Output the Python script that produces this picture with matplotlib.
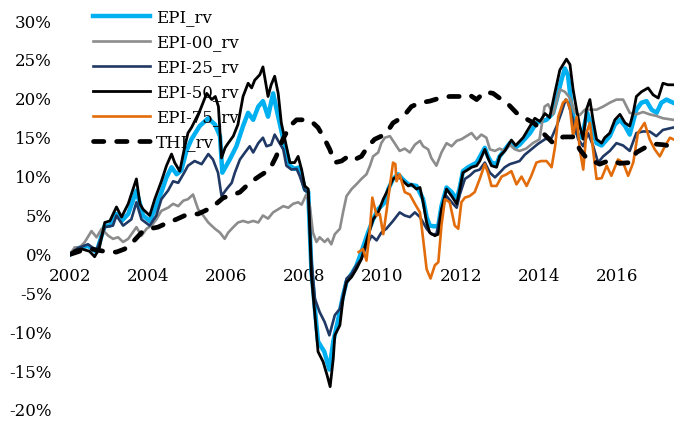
import matplotlib
matplotlib.use("Agg")
import matplotlib.pyplot as plt
from matplotlib.ticker import FuncFormatter

plt.rcParams['font.family'] = ['DejaVu Serif']

# ---------------- data (decimal year, % value) ----------------
epi_t = [2002.00, 2002.20, 2002.46, 2002.68, 2002.89, 2003.02, 2003.19, 2003.32, 2003.49, 2003.70,
         2003.87, 2004.04, 2004.17, 2004.34, 2004.47, 2004.60, 2004.73, 2004.85, 2004.98, 2005.11,
         2005.32, 2005.54, 2005.71, 2005.84, 2005.90, 2006.09, 2006.26, 2006.43, 2006.56, 2006.69,
         2006.82, 2006.94, 2007.07, 2007.20, 2007.33, 2007.46, 2007.63, 2007.75, 2007.88, 2008.01,
         2008.10, 2008.18, 2008.27, 2008.35, 2008.51, 2008.64, 2008.74, 2008.86, 2008.99, 2009.08,
         2009.21, 2009.33, 2009.46, 2009.63, 2009.76, 2009.89, 2010.06, 2010.15, 2010.27, 2010.40,
         2010.53, 2010.66, 2010.87, 2011.04, 2011.13, 2011.21, 2011.34, 2011.43, 2011.51, 2011.64,
         2011.77, 2011.90, 2011.98, 2012.06, 2012.19, 2012.41, 2012.62, 2012.70, 2012.79, 2012.92,
         2013.00, 2013.26, 2013.39, 2013.51, 2013.78, 2013.94, 2014.20, 2014.37, 2014.46, 2014.58,
         2014.67, 2014.75, 2014.84, 2014.97, 2015.10, 2015.24, 2015.35, 2015.48, 2015.61, 2015.82,
         2015.95, 2016.08, 2016.21, 2016.33, 2016.50, 2016.63, 2016.76, 2016.89, 2017.02, 2017.14,
         2017.27, 2017.44]
epi_v = [0.0, 0.8, 1.1, 0.3, 3.7, 3.7, 5.2, 4.3, 5.2, 8.2,
         5.0, 4.3, 5.8, 8.0, 9.9, 11.2, 10.3, 10.8, 13.3, 14.8,
         16.5, 17.5, 16.7, 15.2, 10.5, 12.2, 13.9, 16.5, 18.2, 17.3,
         19.0, 19.7, 17.7, 20.7, 17.7, 14.8, 11.4, 11.0, 11.2, 8.4,
         8.0, -2.0, -7.0, -11.2, -12.5, -14.8, -11.2, -8.5, -5.3, -3.5,
         -2.5, -1.5, 0.3, 2.8, 4.5, 5.8, 6.7, 8.4, 9.7, 10.3,
         9.6, 9.0, 8.8, 7.1, 4.8, 3.7, 3.6, 3.7, 6.2, 8.6,
         8.0, 7.1, 8.6, 10.7, 11.2, 11.8, 13.7, 12.6, 11.8, 11.6,
         12.6, 14.3, 13.7, 14.1, 15.6, 16.9, 17.3, 18.2, 19.9, 22.4,
         23.9, 23.0, 19.0, 15.6, 15.0, 18.2, 16.5, 14.3, 14.0, 15.2,
         16.7, 17.3, 16.5, 15.4, 18.6, 19.5, 19.7, 18.6, 18.2, 19.5,
         19.9, 19.5]

epi00_t = [2002.00, 2002.12, 2002.25, 2002.38, 2002.55, 2002.68, 2002.81, 2002.98, 2003.10, 2003.23,
           2003.36, 2003.49, 2003.70, 2003.83, 2003.96, 2004.09, 2004.21, 2004.34, 2004.51, 2004.64,
           2004.77, 2004.90, 2005.02, 2005.15, 2005.28, 2005.41, 2005.54, 2005.71, 2005.84, 2005.96,
           2006.05, 2006.18, 2006.30, 2006.43, 2006.56, 2006.69, 2006.82, 2006.94, 2007.07, 2007.20,
           2007.33, 2007.46, 2007.59, 2007.71, 2007.84, 2007.93, 2008.05, 2008.14, 2008.22, 2008.31,
           2008.39, 2008.52, 2008.60, 2008.69, 2008.78, 2008.91, 2008.99, 2009.08, 2009.21, 2009.33,
           2009.46, 2009.59, 2009.68, 2009.76, 2009.89, 2009.97, 2010.06, 2010.19, 2010.31, 2010.44,
           2010.57, 2010.70, 2010.83, 2010.96, 2011.04, 2011.17, 2011.25, 2011.38, 2011.51, 2011.64,
           2011.77, 2011.90, 2012.02, 2012.15, 2012.28, 2012.41, 2012.53, 2012.66, 2012.75, 2012.88,
           2013.00, 2013.13, 2013.26, 2013.39, 2013.51, 2013.68, 2013.85, 2014.02, 2014.15, 2014.24,
           2014.37, 2014.54, 2014.67, 2014.80, 2014.93, 2015.05, 2015.18, 2015.31, 2015.48, 2015.65,
           2015.82, 2015.99, 2016.16, 2016.33, 2016.50, 2016.67, 2016.84, 2017.01, 2017.18, 2017.44]
epi00_v = [0.0, 0.9, 0.9, 1.6, 3.0, 2.2, 3.3, 2.4, 2.0, 2.2,
           1.6, 2.0, 3.5, 2.4, 3.3, 3.7, 4.5, 5.6, 6.0, 6.5,
           6.2, 6.9, 7.1, 7.7, 5.8, 5.0, 4.1, 3.3, 2.8, 2.0,
           2.8, 3.5, 4.1, 4.3, 4.1, 4.3, 4.1, 5.0, 4.6, 5.4,
           5.8, 6.2, 6.0, 6.5, 6.7, 6.4, 7.7, 6.2, 2.8, 1.6,
           2.2, 1.6, 2.0, 1.3, 2.6, 3.3, 5.4, 7.5, 8.4, 9.0,
           9.7, 10.3, 11.4, 12.6, 13.1, 14.3, 15.0, 15.2, 14.3, 13.3,
           13.6, 13.1, 14.1, 14.6, 13.9, 13.5, 12.4, 11.4, 13.1, 14.3,
           13.9, 14.6, 14.8, 15.2, 15.6, 14.8, 15.4, 15.0, 13.5, 13.3,
           13.6, 13.3, 14.1, 13.5, 13.3, 13.6, 14.3, 14.8, 19.0, 19.3,
           18.0, 21.2, 20.9, 20.1, 18.2, 17.9, 18.6, 18.6, 18.6, 19.0,
           19.5, 19.9, 19.9, 18.2, 18.0, 18.3, 18.0, 17.8, 17.5, 17.3]

epi25_t = [2002.00, 2002.20, 2002.46, 2002.68, 2002.89, 2003.10, 2003.19, 2003.36, 2003.57, 2003.70,
           2003.83, 2004.04, 2004.21, 2004.34, 2004.51, 2004.64, 2004.77, 2004.90, 2005.02, 2005.19,
           2005.37, 2005.54, 2005.66, 2005.79, 2005.88, 2006.01, 2006.14, 2006.22, 2006.35, 2006.48,
           2006.60, 2006.69, 2006.82, 2006.94, 2007.03, 2007.15, 2007.24, 2007.33, 2007.46, 2007.54,
           2007.67, 2007.80, 2007.88, 2008.01, 2008.10, 2008.18, 2008.27, 2008.39, 2008.52, 2008.64,
           2008.78, 2008.91, 2008.99, 2009.08, 2009.21, 2009.33, 2009.46, 2009.59, 2009.72, 2009.85,
           2009.97, 2010.10, 2010.27, 2010.44, 2010.57, 2010.70, 2010.83, 2010.96, 2011.04, 2011.13,
           2011.25, 2011.38, 2011.51, 2011.64, 2011.77, 2011.90, 2011.98, 2012.11, 2012.23, 2012.36,
           2012.49, 2012.62, 2012.75, 2012.88, 2013.00, 2013.13, 2013.26, 2013.39, 2013.51, 2013.64,
           2013.81, 2013.98, 2014.16, 2014.33, 2014.46, 2014.58, 2014.69, 2014.75, 2014.88, 2015.01,
           2015.14, 2015.26, 2015.39, 2015.52, 2015.65, 2015.82, 2015.99, 2016.16, 2016.33, 2016.50,
           2016.67, 2016.84, 2017.01, 2017.18, 2017.44]
epi25_v = [0.0, 0.8, 1.3, 0.5, 3.5, 3.7, 5.0, 3.7, 4.5, 6.7,
           4.5, 3.7, 5.0, 7.1, 8.2, 9.4, 9.2, 10.3, 11.4, 12.0,
           11.6, 12.9, 12.2, 10.5, 7.5, 8.4, 9.2, 10.5, 12.2, 13.1,
           13.9, 13.1, 14.3, 15.0, 13.9, 14.1, 15.4, 14.6, 13.5, 11.4,
           10.9, 11.0, 10.1, 8.2, 8.0, -0.6, -5.7, -7.4, -8.7, -10.4,
           -7.8, -7.0, -5.3, -3.1, -2.5, -1.4, -0.6, 1.1, 2.4, 1.8,
           2.8, 3.3, 4.3, 5.4, 5.0, 4.8, 5.4, 4.8, 4.1, 3.3,
           2.6, 2.6, 5.8, 7.5, 6.7, 6.0, 7.7, 9.7, 10.1, 10.7,
           10.9, 11.8, 10.5, 9.9, 10.5, 11.2, 11.6, 11.8, 12.0, 12.8,
           13.5, 14.2, 14.8, 15.0, 16.5, 18.2, 19.9, 19.5, 17.3, 14.8,
           13.9, 15.6, 14.0, 11.8, 12.6, 13.3, 14.3, 14.0, 13.3, 15.6,
           15.8, 15.8, 15.2, 16.0, 16.3]

epi50_t = [2002.00, 2002.12, 2002.30, 2002.50, 2002.63, 2002.75, 2002.89, 2003.02, 2003.19, 2003.32,
           2003.49, 2003.70, 2003.79, 2003.87, 2004.04, 2004.17, 2004.34, 2004.47, 2004.60, 2004.68,
           2004.81, 2004.94, 2005.02, 2005.11, 2005.32, 2005.50, 2005.63, 2005.72, 2005.80, 2005.88,
           2005.97, 2006.05, 2006.18, 2006.30, 2006.43, 2006.56, 2006.65, 2006.73, 2006.86, 2006.94,
           2007.07, 2007.15, 2007.24, 2007.33, 2007.41, 2007.50, 2007.63, 2007.75, 2007.84, 2007.93,
           2008.01, 2008.10, 2008.18, 2008.27, 2008.35, 2008.48, 2008.58, 2008.66, 2008.74, 2008.78,
           2008.91, 2008.99, 2009.08, 2009.21, 2009.33, 2009.46, 2009.63, 2009.76, 2009.89, 2010.02,
           2010.15, 2010.27, 2010.40, 2010.53, 2010.66, 2010.74, 2010.87, 2010.96, 2011.04, 2011.13,
           2011.21, 2011.34, 2011.43, 2011.51, 2011.64, 2011.77, 2011.90, 2011.98, 2012.06, 2012.19,
           2012.28, 2012.41, 2012.49, 2012.62, 2012.70, 2012.79, 2012.92, 2013.00, 2013.13, 2013.30,
           2013.41, 2013.60, 2013.78, 2013.90, 2014.03, 2014.16, 2014.28, 2014.41, 2014.54, 2014.71,
           2014.80, 2014.88, 2014.97, 2015.05, 2015.14, 2015.22, 2015.31, 2015.39, 2015.48, 2015.61,
           2015.69, 2015.82, 2015.95, 2016.08, 2016.21, 2016.33, 2016.42, 2016.50, 2016.63, 2016.80,
           2016.93, 2017.06, 2017.18, 2017.31, 2017.44]
epi50_v = [0.0, 0.5, 0.7, 0.4, -0.3, 0.8, 4.1, 4.3, 6.1, 4.8,
           6.5, 9.7, 6.5, 5.8, 5.0, 7.1, 9.4, 11.4, 12.9, 11.8,
           10.7, 13.9, 15.6, 16.3, 18.4, 20.7, 19.9, 20.3, 19.0, 12.4,
           13.7, 14.3, 15.2, 16.7, 20.3, 22.0, 21.4, 22.4, 23.1, 24.1,
           20.3, 21.8, 22.9, 20.7, 16.9, 14.8, 11.8, 11.8, 12.6, 10.9,
           8.8, 8.4, -2.7, -7.8, -12.5, -13.8, -15.5, -17.0, -13.4, -10.4,
           -9.1, -5.7, -3.6, -2.9, -1.9, -0.6, 2.4, 4.5, 5.4, 7.1,
           8.4, 9.7, 10.1, 9.4, 8.8, 9.0, 8.4, 8.6, 6.7, 4.1,
           2.8, 2.4, 2.6, 5.8, 8.4, 7.5, 6.5, 8.4, 10.5, 10.9,
           11.2, 11.4, 12.0, 13.5, 12.4, 11.4, 11.2, 12.6, 13.3, 14.7,
           14.0, 15.0, 16.5, 17.5, 17.1, 18.1, 17.6, 20.7, 23.7, 25.1,
           24.4, 21.2, 18.6, 16.5, 14.8, 18.6, 19.9, 17.3, 14.8, 14.3,
           15.0, 15.6, 17.3, 18.0, 16.9, 16.5, 18.2, 20.3, 20.9, 21.4,
           20.5, 20.1, 22.0, 21.8, 21.8]

epi75_t = [2009.39, 2009.50, 2009.59, 2009.68, 2009.74, 2009.85, 2009.93, 2010.02, 2010.11, 2010.19,
           2010.27, 2010.33, 2010.36, 2010.44, 2010.57, 2010.70, 2010.83, 2010.96, 2011.04, 2011.13,
           2011.23, 2011.34, 2011.43, 2011.51, 2011.60, 2011.72, 2011.85, 2011.94, 2012.02, 2012.11,
           2012.23, 2012.36, 2012.49, 2012.62, 2012.70, 2012.79, 2012.92, 2013.05, 2013.18, 2013.30,
           2013.43, 2013.56, 2013.69, 2013.81, 2013.94, 2014.06, 2014.20, 2014.33, 2014.42, 2014.50,
           2014.62, 2014.71, 2014.80, 2014.88, 2014.97, 2015.05, 2015.14, 2015.22, 2015.31, 2015.39,
           2015.48, 2015.61, 2015.74, 2015.86, 2016.03, 2016.16, 2016.29, 2016.42, 2016.54, 2016.71,
           2016.84, 2016.97, 2017.10, 2017.23, 2017.36, 2017.44]
epi75_v = [0.3, 0.7, -0.8, 3.3, 7.3, 5.0, 5.2, 2.6, 5.8, 8.8,
           11.8, 11.6, 9.4, 10.3, 8.0, 7.7, 6.5, 5.4, 2.0, -1.9,
           -3.1, -1.4, -1.0, 3.7, 7.1, 6.7, 3.7, 3.3, 6.7, 7.3,
           7.5, 8.0, 9.7, 11.6, 10.5, 8.8, 8.8, 10.0, 10.3, 10.7,
           9.0, 10.0, 8.8, 10.1, 11.8, 12.0, 12.0, 11.2, 13.9, 17.7,
           19.5, 19.9, 18.8, 15.2, 17.7, 13.5, 10.9, 15.6, 16.9, 13.5,
           9.7, 9.8, 11.4, 10.1, 12.2, 11.8, 10.1, 11.8, 15.6, 16.9,
           14.8, 13.5, 12.6, 13.9, 15.0, 14.8]

thi_t = [2002.00, 2002.30, 2002.55, 2002.76, 2002.98, 2003.19, 2003.40, 2003.61, 2003.83, 2004.04,
         2004.25, 2004.51, 2004.72, 2004.94, 2005.11, 2005.28, 2005.45, 2005.62, 2005.79, 2005.93,
         2006.09, 2006.35, 2006.60, 2006.86, 2007.11, 2007.28, 2007.45, 2007.63, 2007.80, 2007.97,
         2008.18, 2008.35, 2008.52, 2008.65, 2008.78, 2008.95, 2009.12, 2009.29, 2009.46, 2009.63,
         2009.80, 2009.97, 2010.14, 2010.27, 2010.53, 2010.74, 2010.96, 2011.21, 2011.47, 2011.72,
         2011.98, 2012.23, 2012.41, 2012.62, 2012.83, 2013.05, 2013.18, 2013.43, 2013.69, 2013.90,
         2014.11, 2014.37, 2014.62, 2014.88, 2015.05, 2015.22, 2015.39, 2015.56, 2015.82, 2016.08,
         2016.33, 2016.50, 2016.71, 2016.93, 2017.18, 2017.40]
thi_v = [0.0, 0.5, 0.7, 0.5, 0.3, 0.3, 0.7, 1.6, 2.8, 3.3,
         3.5, 4.1, 4.5, 5.0, 5.2, 5.2, 5.6, 6.0, 6.7, 7.3,
         7.5, 8.0, 9.2, 10.1, 10.9, 12.6, 14.8, 16.5, 17.3, 17.3,
         17.1, 16.3, 14.8, 13.5, 11.8, 12.0, 12.6, 12.2, 12.6, 13.9,
         14.8, 15.2, 15.9, 16.9, 17.7, 19.0, 19.5, 19.7, 20.1, 20.3,
         20.3, 20.5, 19.9, 20.9, 20.7, 19.9, 19.5, 18.2, 17.4, 16.8,
         15.6, 14.3, 15.1, 15.1, 13.5, 12.4, 12.0, 11.6, 12.1, 11.7,
         11.8, 13.1, 13.7, 14.2, 14.1, 13.9]

x_ticks = [2002, 2004, 2006, 2008, 2010, 2012, 2014, 2016]
y_ticks = [-20, -15, -10, -5, 0, 5, 10, 15, 20, 25, 30]

# ---------------- figure ----------------
W, H = 674, 421
fig = plt.figure(figsize=(W / 100, H / 100), dpi=100)
ax = fig.add_axes([70 / W, 1 - 410 / H, 604 / W, (410 - 21) / H])

ax.plot(epi_t, epi_v, color='#00B0F0', lw=3.2, label='EPI_rv', solid_joinstyle='round')
ax.plot(epi00_t, epi00_v, color='#8C8C8C', lw=1.9, label='EPI-00_rv', solid_joinstyle='round')
ax.plot(epi25_t, epi25_v, color='#1F3864', lw=1.9, label='EPI-25_rv', solid_joinstyle='round')
ax.plot(epi50_t, epi50_v, color='#000000', lw=2.0, label='EPI-50_rv', solid_joinstyle='round')
ax.plot(epi75_t, epi75_v, color='#E36C0A', lw=1.9, label='EPI-75_rv', solid_joinstyle='round')
ax.plot(thi_t, thi_v, color='#000000', lw=3.4, label='THI_rv', dashes=(2.2, 2.7),
        dash_capstyle='round')

ax.set_xlim(2002.0, 2002.0 + 604 / 39.06)
ax.set_ylim(-20, 30)
ax.set_xticks(x_ticks)
ax.set_xticklabels([str(v) for v in x_ticks])
ax.set_yticks(y_ticks)
ax.yaxis.set_major_formatter(FuncFormatter(lambda v, p: f"{int(round(v))}%"))

for s in ['top', 'right', 'left']:
    ax.spines[s].set_visible(False)
ax.spines['bottom'].set_position(('data', 0))
ax.spines['bottom'].set_visible(False)
ax.tick_params(axis='both', length=0, labelsize=12, colors='#000000')
ax.tick_params(axis='y', pad=13)
ax.tick_params(axis='x', pad=10)

leg = ax.legend(loc='upper left', bbox_to_anchor=(93 / W, 1 - 9 / H),
                bbox_transform=fig.transFigure, frameon=False, fontsize=12,
                handlelength=3.4, handletextpad=0.4, labelspacing=0.48,
                borderpad=0, borderaxespad=0)

fig.savefig('out.png', dpi=100)
